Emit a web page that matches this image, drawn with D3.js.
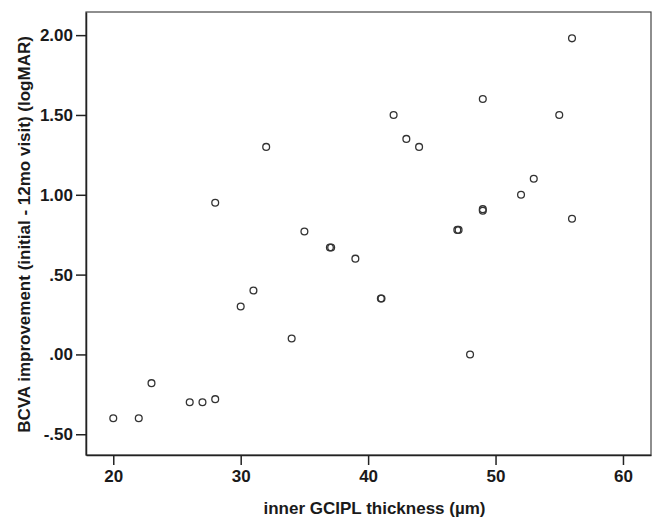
<!DOCTYPE html>
<html>
<head>
<meta charset="utf-8">
<script src="https://cdn.jsdelivr.net/npm/d3@7"></script>
<style>
  body { margin: 0; background: #fff; }
  text { font-family: "Liberation Sans", Arial, sans-serif; font-weight: bold; fill: #1a1a1a; }
</style>
</head>
<body>
<div id="chart"></div>
<script>
// inner GCIPL thickness (um) vs BCVA improvement (logMAR)
var thickness = [20, 22, 23, 26, 27, 28, 28, 30, 31, 32, 34, 35, 37, 37.1, 39, 41, 41.05, 42, 43, 44,
                 47, 47.1, 48, 49, 49, 49, 52, 53, 55, 56, 56];
var improvement = [-0.40, -0.40, -0.18, -0.30, -0.30, -0.28, 0.95, 0.30, 0.40, 1.30, 0.10, 0.77, 0.67, 0.67, 0.60, 0.35, 0.35, 1.50, 1.35, 1.30,
                   0.78, 0.78, 0.00, 1.60, 0.90, 0.91, 1.00, 1.10, 1.50, 1.98, 0.85];
var xTicks = [20, 30, 40, 50, 60];
var yTicks = [-0.5, 0, 0.5, 1.0, 1.5, 2.0];

var width = 654, height = 519;
var margin = {left: 86, right: 3, top: 12, bottom: 64};

var svg = d3.select("#chart").append("svg")
    .attr("width", width)
    .attr("height", height);

var x = d3.scaleLinear().domain([17.86, 62.2]).range([margin.left, width - margin.right]);
var y = d3.scaleLinear().domain([-0.63, 2.145]).range([height - margin.bottom, margin.top]);

// SPSS style labels: .50, -.50, 1.50 (plain hyphen)
var fmt = function (d) {
    return d.toFixed(2).replace(/^(-?)0\./, "$1.");
};

// frame
svg.append("rect")
    .attr("x", margin.left)
    .attr("y", margin.top)
    .attr("width", width - margin.right - margin.left)
    .attr("height", height - margin.bottom - margin.top)
    .attr("fill", "none")
    .attr("stroke", "#444")
    .attr("stroke-width", 1.2);

var xAxis = svg.append("g")
    .attr("transform", "translate(0," + (height - margin.bottom) + ")")
    .call(d3.axisBottom(x).tickValues(xTicks).tickSizeInner(10).tickSizeOuter(0).tickPadding(5));

var yAxis = svg.append("g")
    .attr("transform", "translate(" + margin.left + ",0)")
    .call(d3.axisLeft(y).tickValues(yTicks).tickFormat(fmt).tickSizeInner(10).tickSizeOuter(0).tickPadding(3));

[xAxis, yAxis].forEach(function (g) {
    g.select(".domain").attr("stroke", "#222").attr("stroke-width", 1.5);
    g.selectAll(".tick line").attr("stroke", "#222").attr("stroke-width", 1.5);
    g.selectAll(".tick text").attr("font-size", 17).attr("font-family", null).attr("fill", "#1a1a1a");
});

// points
var pts = thickness.map(function (t, i) { return [t, improvement[i]]; });
svg.append("g").selectAll("circle")
    .data(pts)
    .enter()
    .append("circle")
    .attr("cx", function (d) { return x(d[0]); })
    .attr("cy", function (d) { return y(d[1]); })
    .attr("r", 3.4)
    .attr("fill", "none")
    .attr("stroke", "#333")
    .attr("stroke-width", 1.3);

// axis titles
svg.append("text")
    .attr("x", (margin.left + width - margin.right) / 2 + 6)
    .attr("y", 514)
    .attr("text-anchor", "middle")
    .attr("font-size", 17)
    .text("inner GCIPL thickness (\u00b5m)");

svg.append("text")
    .attr("transform", "translate(30," + ((margin.top + height - margin.bottom) / 2 + 1) + ") rotate(-90)")
    .attr("text-anchor", "middle")
    .attr("font-size", 17)
    .text("BCVA improvement (initial - 12mo visit) (logMAR)");
</script>
</body>
</html>
